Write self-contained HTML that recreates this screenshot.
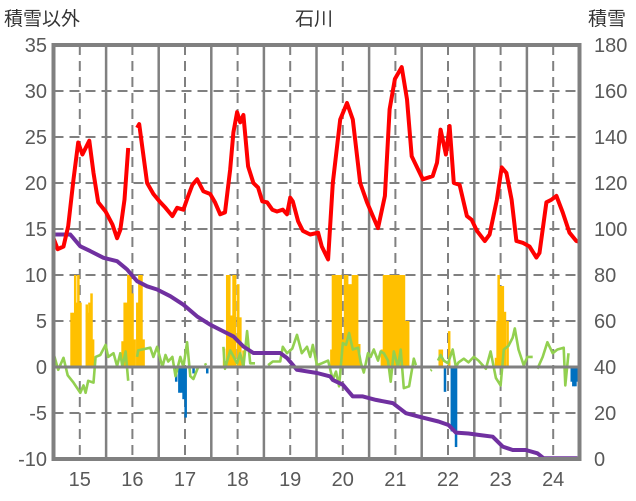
<!DOCTYPE html>
<html><head><meta charset="utf-8"><style>
body{margin:0;background:#fff;width:636px;height:501px;overflow:hidden}
svg{display:block;font-family:"Liberation Sans","Noto Sans CJK JP",sans-serif}
</style></head><body>
<svg id="chart" width="636" height="501" viewBox="0 0 636 501" xmlns="http://www.w3.org/2000/svg">
<text x="314" y="25" font-size="19" fill="#333" text-anchor="middle">石川</text>
<text x="4" y="25" font-size="19" fill="#333">積雪以外</text>
<text x="588" y="25" font-size="19" fill="#333">積雪</text>
<g id="grid"></g>
<g id="bars"></g>
<g id="lines"></g>
<g id="axes"></g>
</svg>
<script>
const xCats=[15,16,17,18,19,20,21,22,23,24];
const leftTicks=[-10,-5,0,5,10,15,20,25,30,35];
const rightTicks=[0,20,40,60,80,100,120,140,160,180];
const redT=[14.50,14.58,14.69,14.78,14.88,14.97,15.05,15.18,15.26,15.35,15.49,15.62,15.71,15.77,15.85,15.92,15.99,16.09,16.13,16.28,16.40,16.53,16.63,16.76,16.85,16.97,17.06,17.14,17.23,17.35,17.48,17.57,17.67,17.76,17.86,17.92,17.99,18.05,18.11,18.20,18.30,18.39,18.47,18.56,18.66,18.75,18.86,18.94,19.00,19.05,19.15,19.24,19.38,19.53,19.60,19.72,19.81,19.95,20.08,20.19,20.33,20.46,20.67,20.80,20.89,20.99,21.12,21.22,21.31,21.52,21.71,21.79,21.86,21.96,22.03,22.11,22.22,22.36,22.45,22.55,22.70,22.79,22.93,23.02,23.11,23.21,23.30,23.42,23.55,23.68,23.74,23.87,23.97,24.06,24.18,24.31,24.44,24.50];
const redV=[14.0,12.8,13.1,15.3,20.4,24.4,23.1,24.6,21.1,17.9,16.9,15.5,14.0,14.9,18.2,23.8,null,26.0,26.4,20.0,18.8,17.9,17.3,16.4,17.3,17.1,18.6,19.8,20.4,19.1,18.8,17.9,16.6,16.8,21.5,25.5,27.7,26.6,27.4,21.8,20.0,19.5,18.0,17.9,17.1,16.9,17.1,16.6,18.4,18.0,15.85,14.8,14.4,14.6,13.1,11.7,20.0,26.9,28.7,26.9,20.0,17.9,15.1,18.6,28.0,31.3,32.6,29.1,22.9,20.4,20.75,22.2,25.8,23.1,26.2,20.0,19.8,16.4,16.0,14.8,13.7,14.4,18.2,21.7,21.1,18.2,13.7,13.5,13.1,11.9,12.4,17.9,18.2,18.6,16.8,14.6,13.7,13.6];
const snowT=[14.50,14.82,15.01,15.20,15.45,15.71,15.90,16.09,16.28,16.47,16.72,16.97,17.23,17.48,17.73,17.92,18.11,18.30,18.81,18.94,19.13,19.51,19.76,19.81,20.00,20.19,20.38,20.63,20.95,21.20,21.45,21.82,22.01,22.15,22.39,22.58,22.85,23.04,23.23,23.48,23.70,23.82,24.46];
const snowV=[97.6,97.6,92.5,90.4,87.5,86,82.4,77.3,75.1,73.7,70.8,67.1,62.0,58.4,55.5,53.3,48.9,46.1,46.1,43.9,38.8,37.4,35.9,34.4,32.3,27.2,27.2,25.7,24.3,19.9,18.4,16.3,14.8,11.5,11.1,10.5,9.7,5.4,3.9,3.9,2.5,0.3,0.3];
const greenT=[14.50,14.59,14.69,14.77,14.88,15.01,15.07,15.11,15.16,15.26,15.30,15.39,15.49,15.54,15.64,15.71,15.77,15.81,15.87,15.92,16.0,16.09,16.11,16.34,16.40,16.47,16.57,16.63,16.68,16.76,16.82,16.91,16.97,17.04,17.10,17.16,17.25,17.3,17.38,17.40,17.5,17.73,17.76,17.86,17.99,18.05,18.11,18.18,18.24,18.33,18.4,18.58,18.67,18.81,18.86,18.94,19.04,19.13,19.22,19.32,19.38,19.43,19.51,19.60,19.72,19.81,19.87,19.93,20.00,20.06,20.12,20.19,20.29,20.34,20.40,20.48,20.53,20.59,20.67,20.72,20.78,20.86,20.91,20.97,21.05,21.10,21.16,21.26,21.35,21.39,21.45,21.67,21.69,21.75,21.81,21.86,21.92,22.00,22.09,22.15,22.20,22.30,22.39,22.49,22.58,22.72,22.81,22.91,23.00,23.06,23.15,23.23,23.27,23.34,23.44,23.51,23.61,23.65,23.70,23.80,23.89,23.99,24.08,24.20,24.23,24.29];
const greenV=[1.5,-0.3,1.0,-0.9,-1.7,-2.8,-2.0,-2.8,-1.5,-1.7,1.1,1.3,2.4,1.1,1.5,0.1,1.5,0,1.7,-1.5,null,1.1,1.8,2.1,1.1,2.2,0,1.3,0.6,1.1,-1.0,1.1,0,2.7,-1.0,-1.3,0,null,0.4,0.2,null,2.2,-0.2,1.8,0.4,1.5,0,3.9,0.4,0.4,null,0.2,0.6,0.6,2.2,1.5,2.0,3.5,1.5,2.2,1.1,2.4,0.2,0.4,0.7,-1.4,-0.5,-2.1,2.6,2.4,3.7,1.9,2.1,0.5,-0.6,1.5,1.1,1.9,0.7,1.7,1.5,0.7,-1.6,1.7,0,1.9,-2.3,-2.1,0.9,0.2,null,-0.4,-0.3,null,0.7,1.3,0.7,0.4,1.9,0,0.5,0.9,0.5,1.1,0.7,-0.2,1.7,-1.2,-2.0,1.9,2.3,3.2,4.2,1.9,0.2,1.1,1.1,null,-0.2,1.1,2.7,1.5,1.9,2.1,-2.0,1.5];
const orangeT=[14.84,14.88,14.91,14.94,14.97,15.01,15.13,15.16,15.18,15.22,15.25,15.81,15.85,15.89,15.92,15.96,16.00,16.04,16.09,16.13,16.17,16.21,17.74,17.80,17.84,17.88,17.92,17.95,18.01,18.05,18.11,19.78,19.81,19.85,19.89,19.93,19.96,20.00,20.04,20.08,20.12,20.16,20.19,20.23,20.27,20.31,20.74,20.78,20.82,20.86,20.89,20.93,20.97,21.01,21.05,21.08,21.12,21.16,21.20,21.24,21.84,21.88,22.02,22.91,22.94,22.96,23.00,23.04,23.08,23.13];
const orangeV=[5.9,5.9,10,7.0,10,7.0,6.8,5.9,7.0,8.0,3.0,2.8,7,7,10,10,8,3,7,10,10,3,2.0,10,10,5.6,10,10,9.0,5.4,1.8,1.9,10,10,10,10,10,3.0,10,10,9.0,9.0,10,10,10,2.5,1.9,10,10,10,10,10,10,10,10,10,10,10,5,5,1.9,1.9,3.9,1.0,5.0,10,8.8,8.8,6.0,5.0];
const blueT=[16.83,16.89,16.93,16.97,17.01,17.16,17.42,21.94,22.07,22.11,22.15,24.35,24.38,24.42,24.46];
const blueV=[-1.6,-2.8,-2.8,-3.5,-5.5,-0.7,-0.7,-2.7,-7.0,-7.0,-8.7,-1.6,-2.1,-2.1,-1.6];

const L=53.5,R=579.5,T=45,B=459;
const xs=t=>L+(t-14.5)/10*(R-L);
const yl=v=>B-(v+10)/45*(B-T);
const yr=v=>B-v/180*(B-T);
const NS='http://www.w3.org/2000/svg';
function mk(tag,parent,attrs){const e=document.createElementNS(NS,tag);for(const k in attrs)e.setAttribute(k,attrs[k]);parent.appendChild(e);return e;}
const grid=document.getElementById('grid'),bars=document.getElementById('bars'),lines=document.getElementById('lines'),axes=document.getElementById('axes');
leftTicks.forEach(v=>{if(v===-10||v===35||v===0)return;const l=mk('line',grid,{x1:L,x2:R,y1:yl(v),y2:yl(v),stroke:'#808080','stroke-width':2,'stroke-dasharray':'10,6'});

});
xCats.forEach(c=>{const d=mk('line',grid,{x1:xs(c),x2:xs(c),y1:T,y2:B,stroke:'#808080','stroke-width':2,'stroke-dasharray':'10,6'});


if(c<24){const s=mk('line',grid,{x1:xs(c+0.5),x2:xs(c+0.5),y1:T,y2:B,stroke:'#808080','stroke-width':2.5});

}});
const bw=(R-L)/10*0.042;
orangeT.forEach((t,i)=>{const y=yl(orangeV[i]);const r=mk('rect',bars,{x:xs(t)-bw/2,y:y,width:bw+0.3,height:yl(0)-y,fill:'#FFC000'});

});
blueT.forEach((t,i)=>{const r=mk('rect',bars,{x:xs(t)-bw/2,y:yl(0),width:bw+0.3,height:yl(blueV[i])-yl(0),fill:'#0070C0'});

});
const zl=mk('line',axes,{x1:L,x2:R,y1:yl(0),y2:yl(0),stroke:'#808080','stroke-width':3});


function path(T_,V_,f){let d='',pen=false;T_.forEach((t,i)=>{const v=V_[i];if(v===null){pen=false;return;}d+=(pen?'L':'M')+xs(t).toFixed(1)+','+f(v).toFixed(1);pen=true;});return d;}
const g=mk('path',lines,{d:path(greenT,greenV,yl),fill:'none',stroke:'#92D050','stroke-width':2.6,'stroke-linejoin':'round'});


const p=mk('path',lines,{d:path(snowT,snowV,yr),fill:'none',stroke:'#7030A0','stroke-width':4,'stroke-linejoin':'round'});


const rl=mk('path',lines,{d:path(redT,redV,yl),fill:'none',stroke:'#FF0000','stroke-width':4,'stroke-linejoin':'round'});


const fr=mk('rect',axes,{x:L,y:T,width:R-L,height:B-T,fill:'none',stroke:'#808080','stroke-width':4});


leftTicks.forEach(v=>{const t=mk('text',axes,{x:47,y:yl(v)+7,'font-size':20,fill:'#595959','text-anchor':'end'});t.textContent=v;

});
rightTicks.forEach(v=>{const t=mk('text',axes,{x:594,y:yr(v)+7,'font-size':20,fill:'#595959'});t.textContent=v;

});
xCats.forEach(c=>{const t=mk('text',axes,{x:xs(c),y:486,'font-size':20,fill:'#595959','text-anchor':'middle'});t.textContent=c;

});
</script>
</body></html>
